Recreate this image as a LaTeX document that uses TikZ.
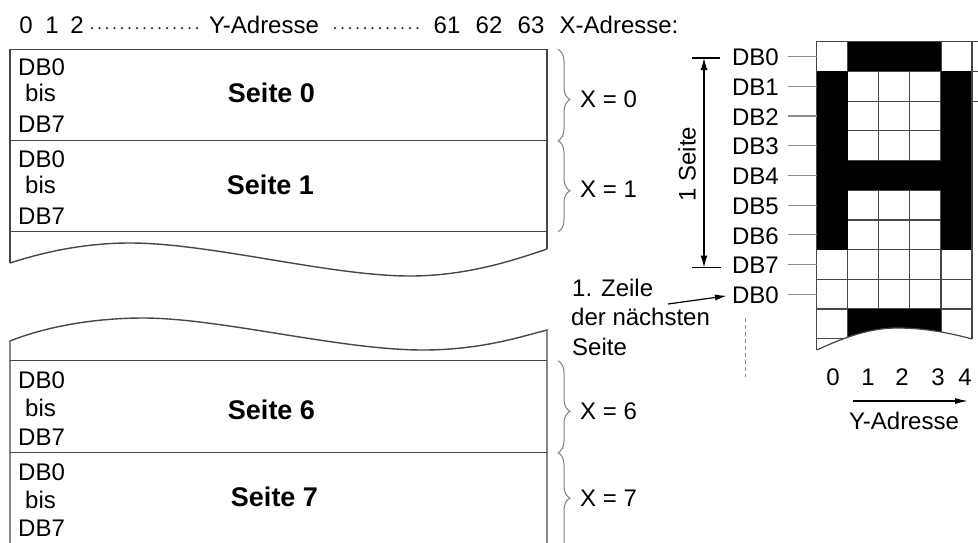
\documentclass[tikz,border=0pt]{standalone}
\usepackage{fontspec}
\setmainfont{Liberation Sans}
\usetikzlibrary{decorations.pathreplacing,arrows.meta,calc}
\begin{document}
\begin{tikzpicture}[x=1pt,y=-1pt,
  txt/.style={inner sep=0pt,font=\fontsize{24}{28}\selectfont},
  big/.style={inner sep=0pt,font=\fontsize{27}{32}\selectfont\bfseries},
  boxline/.style={draw=black!72,line width=1.4pt},
  gridline/.style={draw=black!72,line width=1.2pt},
  lead/.style={draw=black!45,line width=1.1pt},
  brc/.style={draw=black!50,line width=1pt,decorate,decoration={brace,amplitude=12pt,aspect=#1}},
  brc/.default=0.55,
  dotline/.style={draw=black!80,line width=2.5pt,line cap=round,dash pattern=on 0pt off 7.5pt},
  arr/.style={draw=black,line width=1.2pt},
]
\useasboundingbox (0,0) rectangle (978,542);
\clip (0,0) rectangle (978,542);

% header line
\node[txt] (h0) at (26,25) {0};
\node[txt] (h1) at (52,25) {1};
\node[txt] (h2) at (77,25) {2};
\node[txt] (hy) at (264,25) {Y-Adresse};
\node[txt] (h61) at (447,25) {61};
\node[txt] (h62) at (489,25) {62};
\node[txt] (h63) at (531,25) {63};
\node[txt,anchor=west] (hx) at (559.5,25) {X-Adresse:};
\coordinate (d1a) at (92,28); \coordinate (d1b) at (199,28);
\coordinate (d2a) at (335,28); \coordinate (d2b) at (425,28);
\draw[dotline] (d1a) -- (d1b);
\draw[dotline] (d2a) -- (d2b);

% upper block (pages 0 and 1)
\draw[boxline] (10,263) -- (10,49.3) -- (547,49.3) -- (547,249);
\draw[boxline] (10,263) .. controls (50,250) and (90,243) .. (130,243)
  .. controls (210,243) and (330,276) .. (410,276)
  .. controls (470,276) and (520,258) .. (547,249);
\draw[boxline] (10,140.7) -- (547,140.7);
\draw[boxline] (10,231.7) -- (547,231.7);

% lower block (pages 6 and 7)
\draw[boxline] (10,545) -- (10,341) .. controls (50,325) and (100,318) .. (143,318)
  .. controls (220,318) and (340,350) .. (423,350)
  .. controls (480,350) and (520,337) .. (547,330) -- (547,545);
\draw[boxline] (10,360.7) -- (547,360.7);
\draw[boxline] (10,452.7) -- (547,452.7);

% page texts
\node[txt,anchor=west] (p0a) at (18,67) {DB0};
\node[txt,anchor=west] (p0b) at (25,93) {bis};
\node[txt,anchor=west] (p0c) at (18,124) {DB7};
\node[big] (p0s) at (271.5,93) {Seite 0};
\node[txt,anchor=west] (p1a) at (18,159) {DB0};
\node[txt,anchor=west] (p1b) at (25,185) {bis};
\node[txt,anchor=west] (p1c) at (18,216) {DB7};
\node[big] (p1s) at (270.5,185) {Seite 1};
\node[txt,anchor=west] (p6a) at (18,380) {DB0};
\node[txt,anchor=west] (p6b) at (25,408) {bis};
\node[txt,anchor=west] (p6c) at (18,437) {DB7};
\node[big] (p6s) at (271.5,410) {Seite 6};
\node[txt,anchor=west] (p7a) at (18,472) {DB0};
\node[txt,anchor=west] (p7b) at (25,500) {bis};
\node[txt,anchor=west] (p7c) at (18,528) {DB7};
\node[big] (p7s) at (274.5,497) {Seite 7};

% braces and X labels
\draw[brc] (558,49.3) -- (558,140.7);
\draw[brc] (558,140.7) -- (558,231.7);
\draw[brc] (558,360.7) -- (558,452.7);
\draw[brc=0.44] (558,452.7) -- (558,556);
\node[txt,anchor=west] (x0) at (580,99) {X = 0};
\node[txt,anchor=west] (x1) at (580,189) {X = 1};
\node[txt,anchor=west] (x6) at (580,411) {X = 6};
\node[txt,anchor=west] (x7) at (580,498) {X = 7};

% pixel grid
\begin{scope}
  \clip (816.7,41.7) -- (972,41.7) -- (972,339)
    .. controls (950,333) and (925,328) .. (897,328)
    .. controls (870,328) and (845,337) .. (816.7,350) -- cycle;
  \foreach \i in {1,...,4}
    \draw[gridline] (816.7+\i*31.06,41.7) -- (816.7+\i*31.06,360);
  \foreach \j in {1,...,10}
    \draw[gridline] (816.7,41.7+\j*29.7) -- (972,41.7+\j*29.7);
  \foreach \c/\r in {1/0,2/0,3/0,0/1,4/1,0/2,4/2,0/3,4/3,0/4,1/4,2/4,3/4,4/4,0/5,4/5,0/6,4/6,1/9,2/9,3/9}
    \fill[black] (816.7+\c*31.06,41.7+\r*29.7) rectangle ++(31.06,29.7);
\end{scope}
\draw[gridline] (816.7,350) -- (816.7,41.7) -- (972,41.7) -- (972,339);
\draw[gridline] (972,339) .. controls (950,333) and (925,328) .. (897,328)
    .. controls (870,328) and (845,337) .. (816.7,350);
\foreach \j in {0,1,2}
  \draw[gridline] (972,41.7+\j*29.7) -- (980,41.7+\j*29.7);

% row labels and leader lines
\foreach \i/\t in {0/DB0,1/DB1,2/DB2,3/DB3,4/DB4,5/DB5,6/DB6,7/DB7,8/DB0}{
  \node[txt,anchor=east] (r\i) at (779,41.7+29.7*\i+15.85) {\t};
  \draw[lead] ([xshift=9pt,yshift=1pt]r\i.east) -- ++(28.7,0);
}

% 1 Seite dimension
\coordinate (st) at (704,58);
\coordinate (sb) at (704,267.5);
\draw[arr] ([xshift=-12pt]st) -- ([xshift=16pt]st);
\draw[arr] ([xshift=-12pt]sb) -- ([xshift=17pt]sb);
\draw[arr,{Latex[length=12pt,width=7pt]}-{Latex[length=12pt,width=7pt]}] (st) -- (sb);
\node[txt,rotate=90] (seite) at (687,164) {1 Seite};

% next page note
\node[txt,anchor=west] (z1) at (572,288) {1. Zeile};
\node[txt,anchor=west] (z2) at (571,317) {der nächsten};
\node[txt,anchor=west] (z3) at (572,347) {Seite};
\coordinate (za) at (668,304);
\draw[arr,-{Latex[length=12pt,width=6pt]},shorten >=5pt] (za) -- (r8.west);
\coordinate (dsa) at (745,318);
\coordinate (dsb) at (745,377);
\draw[draw=black!45,line width=1pt,dash pattern=on 4pt off 3pt] (dsa) -- (dsb);

% bottom Y axis
\node[txt] (b0) at (833,377) {0};
\node[txt] (b1) at (868,377) {1};
\node[txt] (b2) at (902,377) {2};
\node[txt] (b3) at (938,377) {3};
\node[txt] (b4) at (965,377) {4};
\coordinate (ya1) at (853,401);
\coordinate (ya2) at (968,401);
\draw[arr,-{Latex[length=13pt,width=6pt]}] (ya1) -- (ya2);
\node[txt] (yb) at (904,421) {Y-Adresse};
\end{tikzpicture}
\end{document}
